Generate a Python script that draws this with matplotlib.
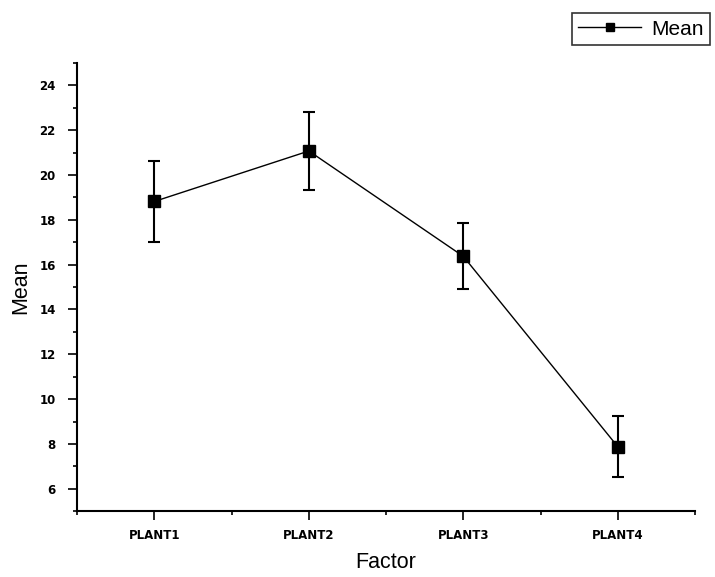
import numpy as np
import matplotlib
matplotlib.use("Agg")
import matplotlib.pyplot as plt
from matplotlib.ticker import MultipleLocator, FixedLocator

factors = ["PLANT1", "PLANT2", "PLANT3", "PLANT4"]
means = [18.82, 21.07, 16.37, 7.88]
errs = [1.79, 1.72, 1.47, 1.36]

plt.rcParams['font.family'] = ['Liberation Sans', 'DejaVu Sans']

fig = plt.figure(figsize=(7.15, 5.77), dpi=100)
ax = fig.add_axes([0.108, 0.114, 0.864, 0.777])

x = np.arange(1, len(factors) + 1)
line, = ax.plot(x, means, "-", color="black", lw=1, marker="s", ms=8.5,
                mfc="black", mec="black", label="Mean")
ax.errorbar(x, means, yerr=errs, fmt="none", ecolor="black", elinewidth=1.5,
            capsize=4, capthick=1.5)

ax.set_xlim(0.5, 4.5)
ax.set_ylim(5, 25)
ax.set_xticks(x)
ax.set_xticklabels(factors, fontsize=8.5, fontweight="bold", family="DejaVu Sans")
ax.xaxis.set_minor_locator(FixedLocator([0.5, 1.5, 2.5, 3.5, 4.5]))
ax.yaxis.set_major_locator(FixedLocator(np.arange(6, 25, 2)))
ax.yaxis.set_minor_locator(MultipleLocator(1))
for lab in ax.get_yticklabels():
    lab.set_fontsize(8.5)
    lab.set_fontweight("bold")
    lab.set_family("DejaVu Sans")

ax.tick_params(which="major", direction="out", length=6.5, width=1.2)
ax.tick_params(which="minor", direction="out", length=3, width=1.2)
ax.tick_params(axis="y", which="major", pad=9)
ax.tick_params(axis="x", which="major", pad=6)
for s in ["top", "right"]:
    ax.spines[s].set_visible(False)
for s in ["left", "bottom"]:
    ax.spines[s].set_linewidth(1.5)

ax.set_xlabel("Factor", fontsize=15.5)
ax.set_ylabel("Mean", fontsize=15.5)
ax.xaxis.set_label_coords(0.5, -0.092)
ax.yaxis.set_label_coords(-0.074, 0.5)

leg = fig.legend(handles=[line], loc="upper right", bbox_to_anchor=(0.993, 0.977),
                 fontsize=15, frameon=True, fancybox=False, edgecolor="black",
                 handlelength=3.0, borderpad=0.3, handletextpad=0.5,
                 borderaxespad=0, markerscale=0.6)
leg.get_frame().set_linewidth(1.2)

fig.savefig("out.png", dpi=100)
